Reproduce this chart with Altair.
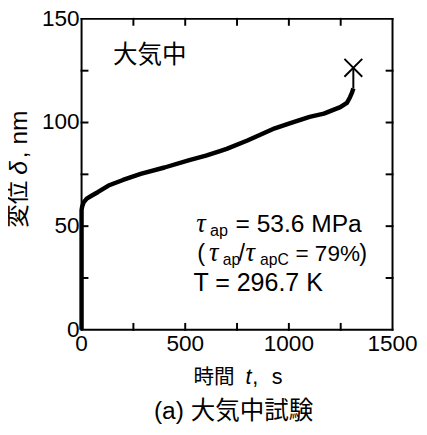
import altair as alt
import pandas as pd

# --- data ---
time_s = [0, 0, 3, 10, 25, 50, 80, 130, 200, 285, 400, 520, 600, 664, 700, 800,
          932, 1000, 1100, 1169, 1248, 1280, 1295, 1305, 1311]
disp_nm = [0, 57.7, 59.5, 61.5, 63.3, 64.8, 66.5, 69.6, 72.3, 75.2, 78.3, 81.9,
           84.0, 86.1, 87.3, 91.3, 97.2, 99.5, 102.7, 104.3, 107.4, 109.5, 112.2,
           114.5, 116.5]
fail_t = [1311, 1311]
fail_d = [116.5, 126.4]
x_tick_labels = [0, 500, 1000, 1500]
y_tick_labels = [0, 50, 100, 150]
x_minor = [250, 500, 750, 1000, 1250]
y_minor = [25, 50, 75, 100, 125]

LAT = "Liberation Sans"
CJK = "Noto Sans CJK JP"
MIX = "Liberation Sans, Noto Sans CJK JP"
W = 317
H = 317
XMIN, XMAX = 0, 1500
YMIN, YMAX = 0, 150
TICK_PX = 6
tx = (XMAX - XMIN) * TICK_PX / W
ty = (YMAX - YMIN) * TICK_PX / H

xs = alt.Scale(domain=[XMIN, XMAX], nice=False, zero=False)
ys = alt.Scale(domain=[YMIN, YMAX], nice=False, zero=False)


def X(f):
    return alt.X(f, scale=xs, axis=None)


def Y(f):
    return alt.Y(f, scale=ys, axis=None)


df = pd.DataFrame({"t": time_s, "d": disp_nm, "i": list(range(len(time_s)))})
dff = pd.DataFrame({"t": fail_t, "d": fail_d})
dfm = pd.DataFrame({"t": [fail_t[-1]], "d": [fail_d[-1]]})

curve = alt.Chart(df).mark_line(color="black", strokeWidth=4.5, strokeJoin="round").encode(
    x=X("t:Q"), y=Y("d:Q"), order="i:Q")
fail = alt.Chart(dff).mark_line(color="black", strokeWidth=2).encode(x=X("t:Q"), y=Y("d:Q"))
marker = alt.Chart(dfm).mark_point(
    shape="M-1,-1L1,1M-1,1L1,-1", size=330, filled=False, color="black", strokeWidth=2, opacity=1
).encode(x=X("t:Q"), y=Y("d:Q"))

# frame + inward ticks, every segment given by x1, x2, y1, y2
x1 = [XMIN, XMIN, XMIN, XMAX]
x2 = [XMAX, XMAX, XMIN, XMAX]
y1 = [YMIN, YMAX, YMIN, YMIN]
y2 = [YMIN, YMAX, YMAX, YMAX]
for v in x_minor:
    x1 += [v, v]
    x2 += [v, v]
    y1 += [YMIN, YMAX]
    y2 += [YMIN + ty, YMAX - ty]
for v in y_minor:
    x1 += [XMIN, XMAX]
    x2 += [XMIN + tx, XMAX - tx]
    y1 += [v, v]
    y2 += [v, v]
seg_df = pd.DataFrame({"x1": x1, "x2": x2, "y1": y1, "y2": y2})
segments = alt.Chart(seg_df).mark_rule(stroke="#000000", strokeWidth=2, strokeCap="square").encode(
    x=X("x1:Q"), x2="x2:Q", y=Y("y1:Q"), y2="y2:Q")

# tick labels
xl = pd.DataFrame({"v": x_tick_labels, "z": [YMIN] * len(x_tick_labels)})
yl = pd.DataFrame({"v": y_tick_labels, "z": [XMIN] * len(y_tick_labels)})
xlabels = alt.Chart(xl).mark_text(font=LAT, fontSize=23, color="black", baseline="top",
                                  align="center", dy=4).encode(
    x=X("v:Q"), y=Y("z:Q"), text=alt.Text("v:Q", format="d"))
ylabels = alt.Chart(yl).mark_text(font=LAT, fontSize=23, color="black", baseline="middle",
                                  align="right", dx=-2).encode(
    y=Y("v:Q"), x=X("z:Q"), text=alt.Text("v:Q", format="d"))

one = pd.DataFrame({"a": [0]})


def txt(s, x, y, size, font=LAT, italic=False, align="left", baseline="alphabetic", angle=0):
    kw = dict(text=s, font=font, fontSize=size, align=align, baseline=baseline, color="black")
    if italic:
        kw["fontStyle"] = "italic"
    if angle:
        kw["angle"] = angle
    return alt.Chart(one).mark_text(**kw).encode(x=alt.value(x), y=alt.value(y))


TAU = "Liberation Serif"
texts = [
    txt("大気中", 32, 37, 25, font=CJK, baseline="middle"),
    # line 1
    txt("τ", 117, 217, 27, font=TAU, italic=True),
    txt("ap", 131, 221, 16.5),
    txt("= 53.6 MPa", 157, 217, 25),
    # line 2
    txt("(", 118, 247, 24),
    txt("τ", 130, 247, 27, font=TAU, italic=True),
    txt("ap", 144, 251, 16),
    txt("/", 160, 247, 24),
    txt("τ", 167, 247, 27, font=TAU, italic=True),
    txt("apC", 182, 251, 16),
    txt("= 79%", 218, 247, 23),
    txt(")", 283, 247, 24),
    # line 3
    txt("T = 296.7 K", 114, 277, 25.5),
    # x title
    txt("時間", 114, 372, 21, font=CJK),
    txt("t", 167, 372, 22, italic=True),
    txt(",", 174, 372, 22),
    txt("s", 194, 372, 22),
    # caption
    txt("(a) 大気中試験", 155, 408, 25, font=MIX, align="center"),
    # y title (rotated)
    txt("変位", -63.5, 213, 24, font=CJK, baseline="middle", angle=270),
    txt("δ", -63.5, 159, 25, italic=True, baseline="middle", angle=270),
    txt(", nm", -63.5, 142, 25, baseline="middle", angle=270),
]

chart = alt.layer(segments, curve, fail, marker, xlabels, ylabels, *texts).properties(
    width=W, height=H,
    background="white",
    autosize=alt.AutoSizeParams(type="none"),
    padding={"left": 75, "top": 7, "right": 27, "bottom": 95},
).configure_view(strokeWidth=0)

chart.save("out.html", embed_options={"renderer": "svg", "actions": False})
